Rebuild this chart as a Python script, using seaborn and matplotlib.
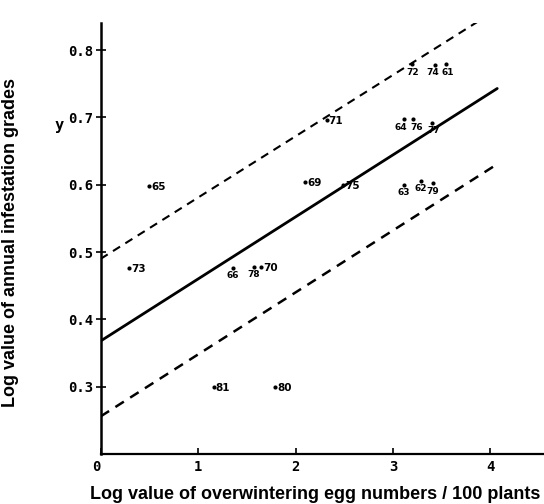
import matplotlib
matplotlib.use("Agg")
import matplotlib.pyplot as plt
import seaborn as sns
import pandas as pd

# ---- data ----
years = ["65", "73", "66", "78", "70", "81", "80", "69", "75", "71",
         "72", "74", "61", "64", "76", "77", "63", "62", "79"]
log_eggs = [0.50, 0.29, 1.36, 1.57, 1.65, 1.16, 1.79, 2.10, 2.49, 2.32,
            3.20, 3.43, 3.54, 3.11, 3.21, 3.40, 3.11, 3.29, 3.41]
log_grade = [0.598, 0.477, 0.477, 0.478, 0.478, 0.300, 0.300, 0.604, 0.600, 0.696,
             0.779, 0.778, 0.779, 0.697, 0.697, 0.692, 0.600, 0.606, 0.602]

fit_x = [0.0, 4.07]
fit_y = [0.368, 0.743]
upper_x = [0.0, 3.955]
upper_y = [0.490, 0.850]
lower_x = [0.0, 4.03]
lower_y = [0.256, 0.627]

xticks = [0, 1, 2, 3, 4]
yticks = [0.3, 0.4, 0.5, 0.6, 0.7, 0.8]
ytick_labels = ["0.3", "0.4", "0.5", "0.6", "0.7", "0.8"]

# labels drawn beneath their dot (crowded clusters), with small horizontal nudges (pixels)
below_labels = {"72": 0, "74": -2, "61": 2, "64": -3, "76": 3, "77": 2,
                "63": 0, "62": 0, "79": 0, "66": 0, "78": 0}

sns.set_style("ticks")
plt.rcParams["font.family"] = ["Liberation Sans", "DejaVu Sans"]
plt.rcParams.update({"text.color": "black", "axes.labelcolor": "black",
                     "xtick.color": "black", "ytick.color": "black",
                     "axes.edgecolor": "black"})

fig = plt.figure(figsize=(5.44, 5.04), dpi=100)
ax = fig.add_axes([0.185, 0.099, 0.815, 0.855])

df = pd.DataFrame({"x": log_eggs, "y": log_grade, "year": years})

sns.lineplot(x=fit_x, y=fit_y, ax=ax, color="black", lw=2.0)
sns.lineplot(x=upper_x, y=upper_y, ax=ax, color="black", lw=1.5, linestyle=(0, (4, 3)))
sns.lineplot(x=lower_x, y=lower_y, ax=ax, color="black", lw=1.8, linestyle=(0, (4, 3)))
sns.scatterplot(data=df, x="x", y="y", ax=ax, color="black", s=9, edgecolor="black", linewidth=0)

for xi, yi, lab in zip(log_eggs, log_grade, years):
    if lab in below_labels:
        ax.annotate(lab, xy=(xi, yi), xytext=(below_labels[lab], -8),
                    textcoords="offset pixels", ha="center", va="center",
                    fontsize=6.5, fontweight="bold", family="DejaVu Sans")
    else:
        ax.annotate(lab, xy=(xi, yi), xytext=(2, -1), textcoords="offset pixels",
                    ha="left", va="center", fontsize=7.5, fontweight="bold",
                    family="DejaVu Sans")

ax.set_xlim(0, 4.55)
ax.set_ylim(0.2, 0.84)
sns.despine(ax=ax)
ax.spines["left"].set_linewidth(1.8)
ax.spines["bottom"].set_linewidth(1.6)

ax.set_xticks(xticks)
ax.set_xticklabels([str(t) for t in xticks], family="DejaVu Sans Mono",
                   fontweight="bold", fontsize=10)
ax.get_xticklabels()[0].set_horizontalalignment("right")
ax.set_yticks(yticks)
ax.set_yticklabels(ytick_labels, family="DejaVu Sans Mono", fontweight="bold", fontsize=10)
ax.tick_params(axis="y", direction="inout", length=7, width=1.2, pad=2)
ax.tick_params(axis="x", direction="in", length=4, width=1.2, pad=4)

ax.annotate("y", xy=(0, 0.7), xytext=(-42, -8), textcoords="offset pixels",
            ha="center", va="center", fontsize=11, fontweight="bold",
            family="DejaVu Sans Mono", annotation_clip=False)

ax.set_xlabel("Log value of overwintering egg numbers / 100 plants",
              fontsize=13, fontweight="bold")
ax.xaxis.set_label_coords(0.483, -0.075)
ax.set_ylabel("Log value of annual infestation grades",
              fontsize=13, fontweight="bold")
ax.yaxis.set_label_coords(-0.185, 0.49)

fig.savefig("out.png", dpi=100)
